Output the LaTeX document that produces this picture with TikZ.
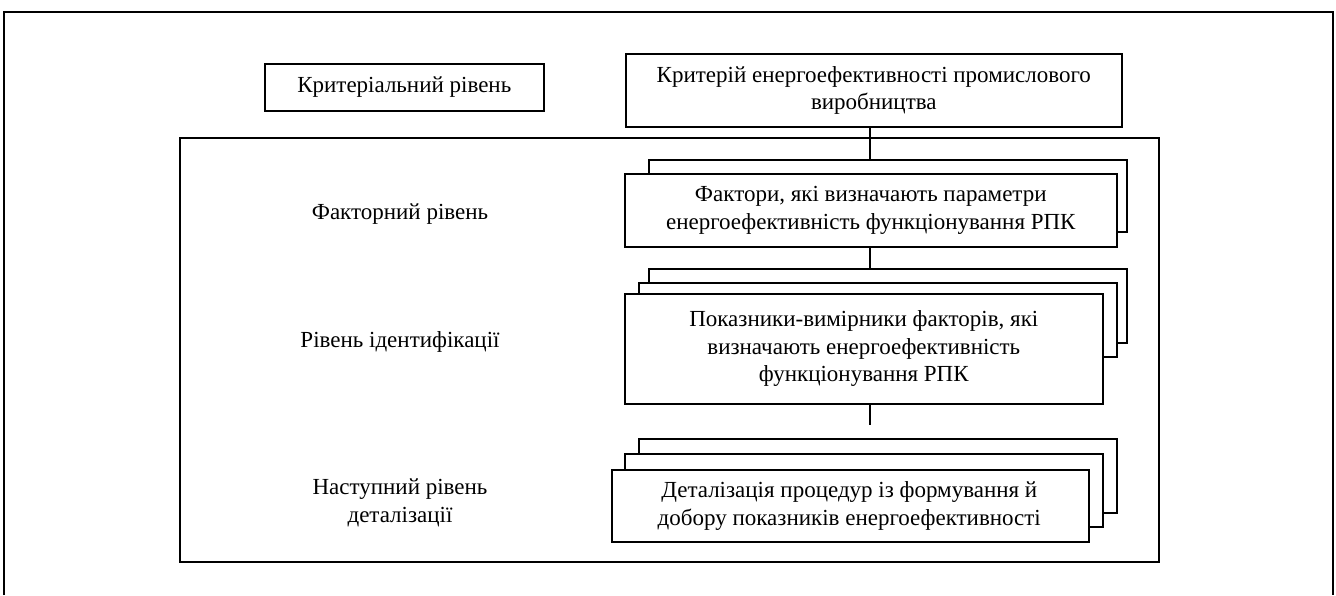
\documentclass[tikz,border=0pt]{standalone}
\usepackage{fontspec}
\setmainfont{Liberation Serif}
\begin{document}
\begin{tikzpicture}[x=1pt,y=-1pt,
  box/.style={draw=black,line width=1.6pt,fill=white,inner sep=0pt},
  txt/.style={font=\fontsize{23}{27.5}\selectfont,align=center,inner sep=0pt},
  conn/.style={draw=black,line width=1.6pt}]
\useasboundingbox (0,0) rectangle (1336,595);
% outer frame (open at the bottom)
\draw[line width=2.6pt] (4,595) -- (4,12) -- (1333,12) -- (1333,595);
% big inner frame
\node[box,fill=none,minimum width=979pt,minimum height=424pt,anchor=north west] (frame) at (179,137) {};
% top row
\node[box,minimum width=279pt,minimum height=47pt,anchor=north west] (krl) at (264,63) {};
\node[txt] (krlt) at (krl.center) {Критеріальний рівень};
\node[box,minimum width=496pt,minimum height=73pt,anchor=north west] (crit) at (625,53) {};
\node[txt] (critt) at (crit.center) {Критерій енергоефективності промислового\\виробництва};
% factor stack
\node[box,minimum width=478pt,minimum height=72pt,anchor=north west] (f2) at (648,159) {};
\node[box,minimum width=492pt,minimum height=73pt,anchor=north west] (f1) at (624,173) {};
\node[txt] (f1t) at (f1.center) {Фактори, які визначають параметри\\енергоефективність функціонування РПК};
% indicator stack
\node[box,minimum width=478pt,minimum height=74pt,anchor=north west] (i3) at (648,268) {};
\node[box,minimum width=478pt,minimum height=74pt,anchor=north west] (i2) at (638,282) {};
\node[box,minimum width=478pt,minimum height=110pt,anchor=north west] (i1) at (624,293) {};
\node[txt] (i1t) at (i1.center) {Показники-вимірники факторів, які\\визначають енергоефективність\\функціонування РПК};
% detail stack
\node[box,minimum width=478pt,minimum height=74pt,anchor=north west] (d3) at (638,438) {};
\node[box,minimum width=478pt,minimum height=73pt,anchor=north west] (d2) at (624,453) {};
\node[box,minimum width=477pt,minimum height=72pt,anchor=north west] (d1) at (611,469) {};
\node[txt] (d1t) at ([xshift=-1pt]d1.center) {Деталізація процедур із формування й\\добору показників енергоефективності};
% left labels
\node[txt] (lf) at (400,214) {Факторний рівень};
\node[txt] (li) at (400,342) {Рівень ідентифікації};
\node[txt] (ln) at (400,503) {Наступний рівень\\деталізації};
% connectors
\coordinate (cx) at (870,0);
\coordinate (gapend) at (870,425);
\draw[conn] (crit.south -| cx) -- (f2.north -| cx);
\draw[conn] (f1.south -| cx) -- (i3.north -| cx);
\draw[conn] (i1.south -| cx) -- (gapend);
\end{tikzpicture}
\end{document}
